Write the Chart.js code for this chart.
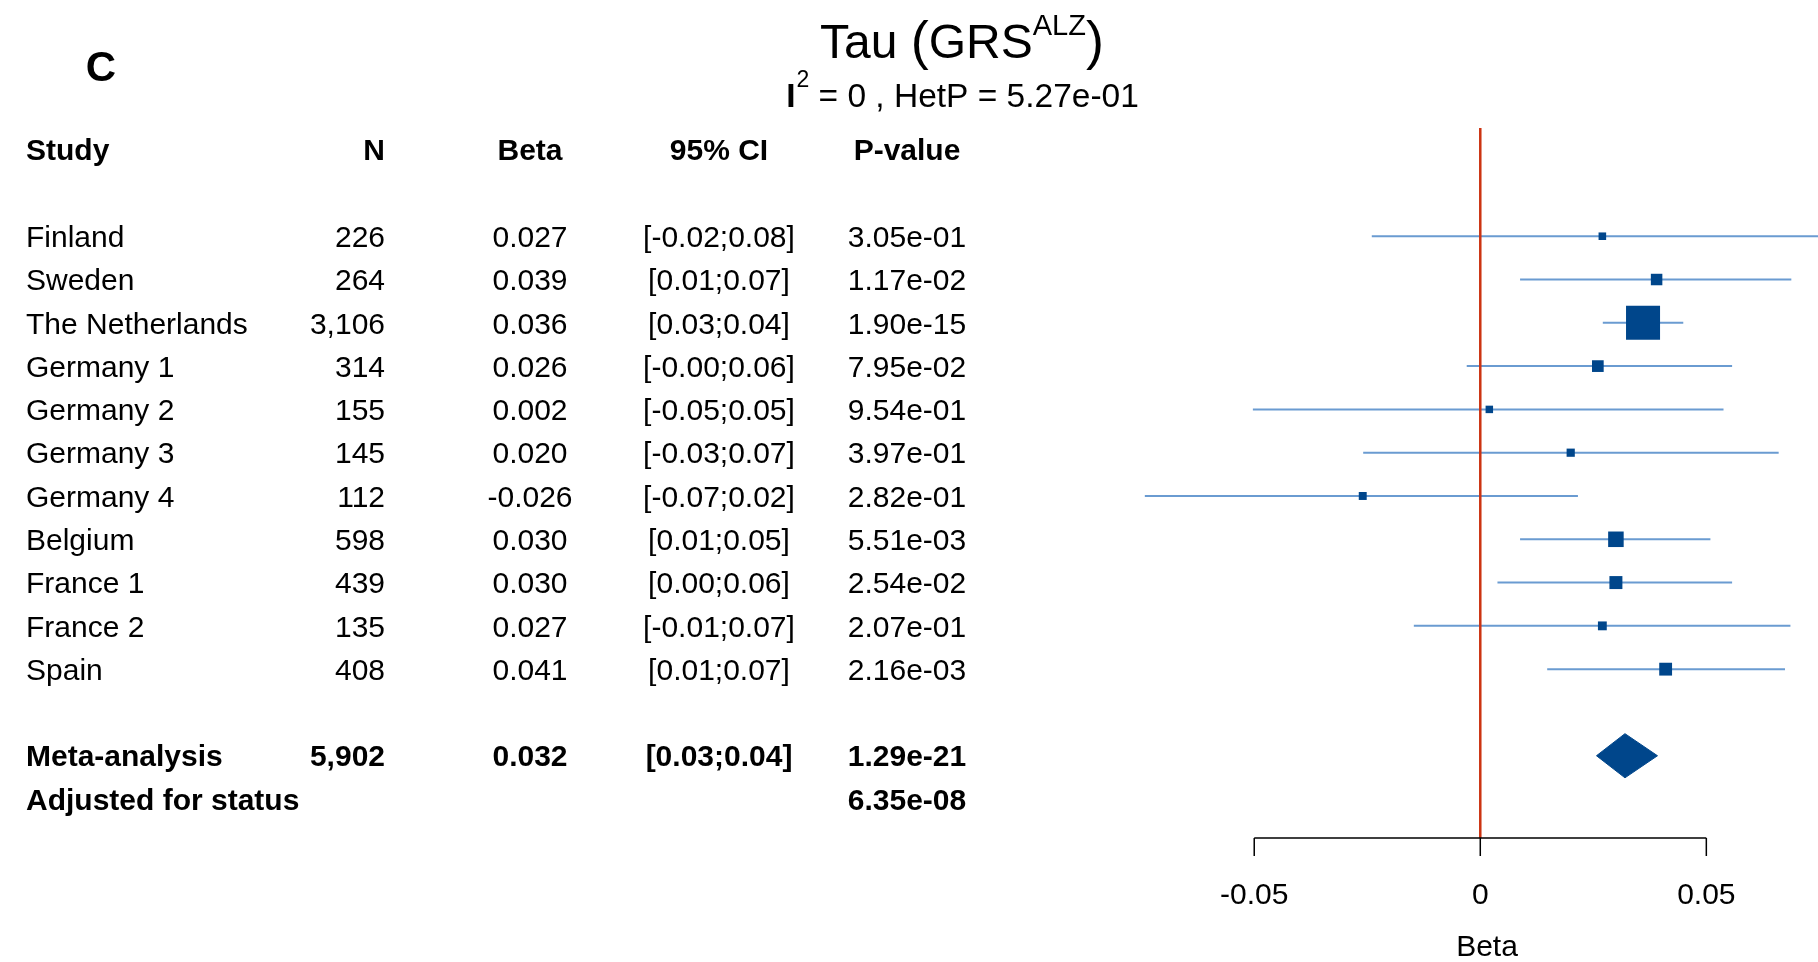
<!DOCTYPE html>
<html>
<head>
<meta charset="utf-8">
<title>Tau (GRS ALZ) forest plot</title>
<script src="https://cdn.jsdelivr.net/npm/chart.js@4.4.0/dist/chart.umd.min.js"></script>
<style>
  html, body { margin: 0; padding: 0; background: #fff; }
  #wrap { position: relative; width: 1818px; height: 962px; }
</style>
</head>
<body>
<div id="wrap"><canvas id="forest"></canvas></div>
<script>
// data /////////////////////////////////////////////////////////
var studies = ['Finland', 'Sweden', 'The Netherlands', 'Germany 1', 'Germany 2', 'Germany 3',
               'Germany 4', 'Belgium', 'France 1', 'France 2', 'Spain'];
var sampleN = [226, 264, 3106, 314, 155, 145, 112, 598, 439, 135, 408];
var beta    = [0.027, 0.039, 0.036, 0.026, 0.002, 0.020, -0.026, 0.030, 0.030, 0.027, 0.041];
var ciLow   = [-0.024, 0.0088, 0.0271, -0.003, -0.0503, -0.0259, -0.0742, 0.0088, 0.0038, -0.0147, 0.0148];
var ciHigh  = [0.078, 0.0688, 0.0449, 0.0557, 0.0538, 0.066, 0.0216, 0.0509, 0.0557, 0.0686, 0.0674];
var pValues = ['3.05e-01', '1.17e-02', '1.90e-15', '7.95e-02', '9.54e-01', '3.97e-01',
               '2.82e-01', '5.51e-03', '2.54e-02', '2.07e-01', '2.16e-03'];

var metaLabel = 'Meta-analysis';
var metaN = 5902;
var metaBeta = 0.032;
var metaLow = 0.0257;
var metaHigh = 0.0392;
var metaP = '1.29e-21';
var adjustedLabel = 'Adjusted for status';
var adjustedP = '6.35e-08';

var headers = ['Study', 'N', 'Beta', '95% CI', 'P-value'];
var tickValues = [-0.05, 0, 0.05];
var tickLabels = ['-0.05', '0', '0.05'];
var nullEffect = 0;

// look ////////////////////////////////////////////////////////////////////////////
var FONT = '"Liberation Sans", Arial, sans-serif';
var dark = '#00468b';
var light = '#6a9bd1';
var red = '#cc3311';
var yMin = -2.5, yMax = 13.9;
var headerRow = -2;
var metaRow = studies.length + 1;
var adjustedRow = metaRow + 1;
var diamondHalf = 0.51;

function fmtCI(lo, hi) { return '[' + lo.toFixed(2) + ';' + hi.toFixed(2) + ']'; }
function fmtN(n) { return n.toLocaleString('en-US'); }

// datasets ////////////////////////////////////////////////////////////////////////
var squares = {
  label: 'studies',
  data: studies.map(function (s, i) { return { x: beta[i], y: i }; }),
  pointStyle: 'rect',
  // box side grows with the study's precision (1 / CI width)
  pointRadius: studies.map(function (s, i) { return (2 + 0.57 / (ciHigh[i] - ciLow[i])) / Math.SQRT2; }),
  pointBackgroundColor: dark,
  pointBorderWidth: 0,
  backgroundColor: dark,
  borderColor: dark,
  showLine: false
};

var diamond = {
  label: metaLabel,
  data: [
    { x: metaLow, y: metaRow },
    { x: metaBeta, y: metaRow - diamondHalf },
    { x: metaHigh, y: metaRow },
    { x: metaBeta, y: metaRow + diamondHalf },
    { x: metaLow, y: metaRow }
  ],
  showLine: true,
  fill: 'shape',
  backgroundColor: dark,
  borderColor: dark,
  borderWidth: 1,
  pointRadius: 0,
  tension: 0
};

var nullLine = {
  label: 'null',
  data: [{ x: nullEffect, y: yMin }, { x: nullEffect, y: yMax }],
  showLine: true,
  borderColor: red,
  borderWidth: 2.5,
  pointRadius: 0
};

var ciLines = studies.map(function (s, i) {
  return {
    label: s,
    data: [{ x: ciLow[i], y: i }, { x: ciHigh[i], y: i }],
    showLine: true,
    borderColor: light,
    borderWidth: 2,
    pointRadius: 0
  };
});

// table, titles and the R-style axis /////////////////////////////////////////////
var textPlugin = {
  id: 'forestText',
  afterDraw: function (chart) {
    var ctx = chart.ctx;
    var xs = chart.scales.x, ys = chart.scales.y;
    var cols = [
      { x: 26, align: 'left' },
      { x: 385, align: 'right' },
      { x: 530, align: 'center' },
      { x: 719, align: 'center' },
      { x: 907, align: 'center' }
    ];
    var size = 30;
    function row(cells, r, bold) {
      var yy = ys.getPixelForValue(r) + size * 0.358;
      ctx.font = (bold ? 'bold ' : '') + size + 'px ' + FONT;
      ctx.fillStyle = '#000';
      ctx.textBaseline = 'alphabetic';
      cells.forEach(function (c, k) {
        if (c === '') return;
        ctx.textAlign = cols[k].align;
        ctx.fillText(c, cols[k].x, yy);
      });
    }
    ctx.save();
    row(headers, headerRow, true);
    studies.forEach(function (s, i) {
      row([s, fmtN(sampleN[i]), beta[i].toFixed(3), fmtCI(ciLow[i], ciHigh[i]), pValues[i]], i, false);
    });
    row([metaLabel, fmtN(metaN), metaBeta.toFixed(3), fmtCI(metaLow, metaHigh), metaP], metaRow, true);
    row([adjustedLabel, '', '', '', adjustedP], adjustedRow, true);

    // panel letter
    ctx.font = 'bold 42px ' + FONT;
    ctx.textAlign = 'center';
    ctx.fillText('C', 101, 81);

    // title with superscript, parentheses a bit taller like plotmath does
    var cx = 962;
    var t0 = 'Tau ', p1 = '(', t1 = 'GRS', sup = 'ALZ', p2 = ')';
    ctx.font = '48px ' + FONT;
    var w0 = ctx.measureText(t0).width, w1 = ctx.measureText(t1).width;
    ctx.font = '54px ' + FONT;
    var wp = ctx.measureText(p1).width;
    ctx.font = '29px ' + FONT;
    var w2 = ctx.measureText(sup).width;
    var left = cx - (w0 + wp + w1 + w2 + wp) / 2;
    ctx.textAlign = 'left';
    ctx.font = '48px ' + FONT;
    ctx.fillText(t0, left, 58);
    ctx.fillText(t1, left + w0 + wp, 58);
    ctx.font = '54px ' + FONT;
    ctx.fillText(p1, left + w0, 59);
    ctx.fillText(p2, left + w0 + wp + w1 + w2, 59);
    ctx.font = '29px ' + FONT;
    ctx.fillText(sup, left + w0 + wp + w1, 35);

    // subtitle: I^2 = 0 , HetP = ...
    var s1 = 'I', s2 = '2', s3 = ' = 0 , HetP = 5.27e-01';
    ctx.font = 'bold 33.5px ' + FONT;
    var a = ctx.measureText(s1).width;
    ctx.font = '23px ' + FONT;
    var b = ctx.measureText(s2).width;
    ctx.font = '33.5px ' + FONT;
    var c = ctx.measureText(s3).width;
    var l2 = cx - (a + b + c) / 2;
    ctx.font = 'bold 33.5px ' + FONT;
    ctx.fillText(s1, l2, 106.5);
    ctx.font = '23px ' + FONT;
    ctx.fillText(s2, l2 + a + 1, 87);
    ctx.font = '33.5px ' + FONT;
    ctx.fillText(s3, l2 + a + b + 1, 106.5);

    // axis between first and last tick
    var ay = chart.chartArea.bottom;
    var x0 = xs.getPixelForValue(tickValues[0]);
    var x1 = xs.getPixelForValue(tickValues[tickValues.length - 1]);
    ctx.strokeStyle = '#000';
    ctx.lineWidth = 1.5;
    ctx.beginPath();
    ctx.moveTo(x0, ay);
    ctx.lineTo(x1, ay);
    tickValues.forEach(function (v) {
      var px = xs.getPixelForValue(v);
      ctx.moveTo(px, ay);
      ctx.lineTo(px, ay + 18);
    });
    ctx.stroke();
    ctx.font = size + 'px ' + FONT;
    ctx.textAlign = 'center';
    tickValues.forEach(function (v, k) {
      ctx.fillText(tickLabels[k], xs.getPixelForValue(v), 904);
    });
    ctx.fillText('Beta', 1487, 956);
    ctx.restore();
  }
};

var ctxForest = document.getElementById('forest').getContext('2d');
var forest = new Chart(ctxForest, {
  type: 'scatter',
  data: { datasets: [squares, diamond, nullLine].concat(ciLines) },
  options: {
    responsive: true,
    maintainAspectRatio: false,
    animation: false,
    events: [],
    layout: { autoPadding: false, padding: { left: 1096, right: 0, top: 128, bottom: 124 } },
    scales: {
      x: { type: 'linear', display: false, min: -0.085, max: 0.0747 },
      y: { type: 'linear', display: false, min: yMin, max: yMax, reverse: true }
    },
    plugins: {
      legend: { display: false },
      tooltip: { enabled: false }
    }
  },
  plugins: [textPlugin]
});
</script>
</body>
</html>
